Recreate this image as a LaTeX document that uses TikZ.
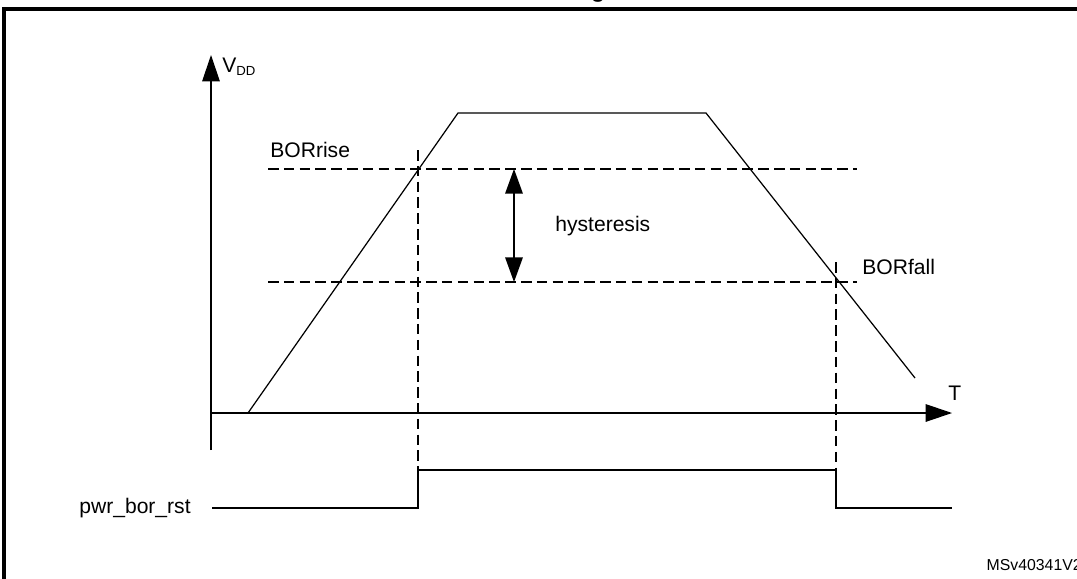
\documentclass[tikz,border=0pt]{standalone}
\usepackage{fontspec}
\setmainfont{Liberation Sans}
\usetikzlibrary{arrows.meta}
\begin{document}
\begin{tikzpicture}[x=0.02cm,y=-0.02cm,
  lbl/.style={font=\fontsize{12}{14}\selectfont,inner sep=0pt},
  dsh/.style={dashed,dash pattern=on 6pt off 3pt,line width=0.6pt},
  ln/.style={line width=0.7pt},
  bigarrow/.style={-{Triangle[length=15pt,width=10pt]},line width=0.7pt}]
\useasboundingbox (0,0) rectangle (1077,578);
\node[anchor=base,inner sep=0pt,font=\bfseries\fontsize{13}{15}\selectfont] (title) at (598,-3) {g};
\draw[line width=2pt] (4,600) -- (4,9) -- (1100,9);
% axes
\coordinate (yb) at (211,450); \coordinate (yt) at (211,55);
\coordinate (xl) at (211,413); \coordinate (xr) at (952,413);
\draw[bigarrow] (yb) -- (yt);
\draw[bigarrow] (xl) -- (xr);
\node[lbl,anchor=west] (vdd) at (222,67) {V\textsubscript{\fontsize{7.5}{8}\selectfont DD}};
\node[lbl,anchor=south west] (T) at (948,401) {T};
% waveform
\coordinate (w0) at (248,413); \coordinate (w1) at (458,113);
\coordinate (w2) at (706,113); \coordinate (w3) at (915,378);
\draw[ln] (w0) -- (w1) -- (w2) -- (w3);
% thresholds
\coordinate (r0) at (268,169); \coordinate (r1) at (857,169);
\coordinate (f0) at (268,282); \coordinate (f1) at (857,282);
\draw[dsh] (r0) -- (r1);
\draw[dsh] (f0) -- (f1);
\node[lbl,anchor=west] (borrise) at (270,150) {BORrise};
\node[lbl,anchor=west] (borfall) at (862,267) {BORfall};
% hysteresis
\coordinate (h0) at (514,169); \coordinate (h1) at (514,282);
\draw[{Triangle[length=14pt,width=10pt]}-{Triangle[length=14pt,width=10pt]},line width=0.7pt] (h0) -- (h1);
\node[lbl,anchor=west] (hyst) at (555,226) {hysteresis};
% vertical dashed
\coordinate (d1t) at (418,150); \coordinate (d1b) at (418,508);
\coordinate (d2t) at (836,262); \coordinate (d2b) at (836,508);
\draw[dsh] (d1t) -- (d1b);
\draw[dsh] (d2t) -- (d2b);
% reset signal
\coordinate (s0) at (212,508); \coordinate (s1) at (418,508); \coordinate (s2) at (418,470);
\coordinate (s3) at (836,470); \coordinate (s4) at (836,508); \coordinate (s5) at (952,508);
\draw[ln] (s0) -- (s1) -- (s2) -- (s3) -- (s4) -- (s5);
\node[lbl] (pwr) at (135,508) {pwr\_bor\_rst};
\node[anchor=east,inner sep=0pt,font=\fontsize{9}{10}\selectfont] (ms) at (1082,565) {MSv40341V2};
\end{tikzpicture}
\end{document}
